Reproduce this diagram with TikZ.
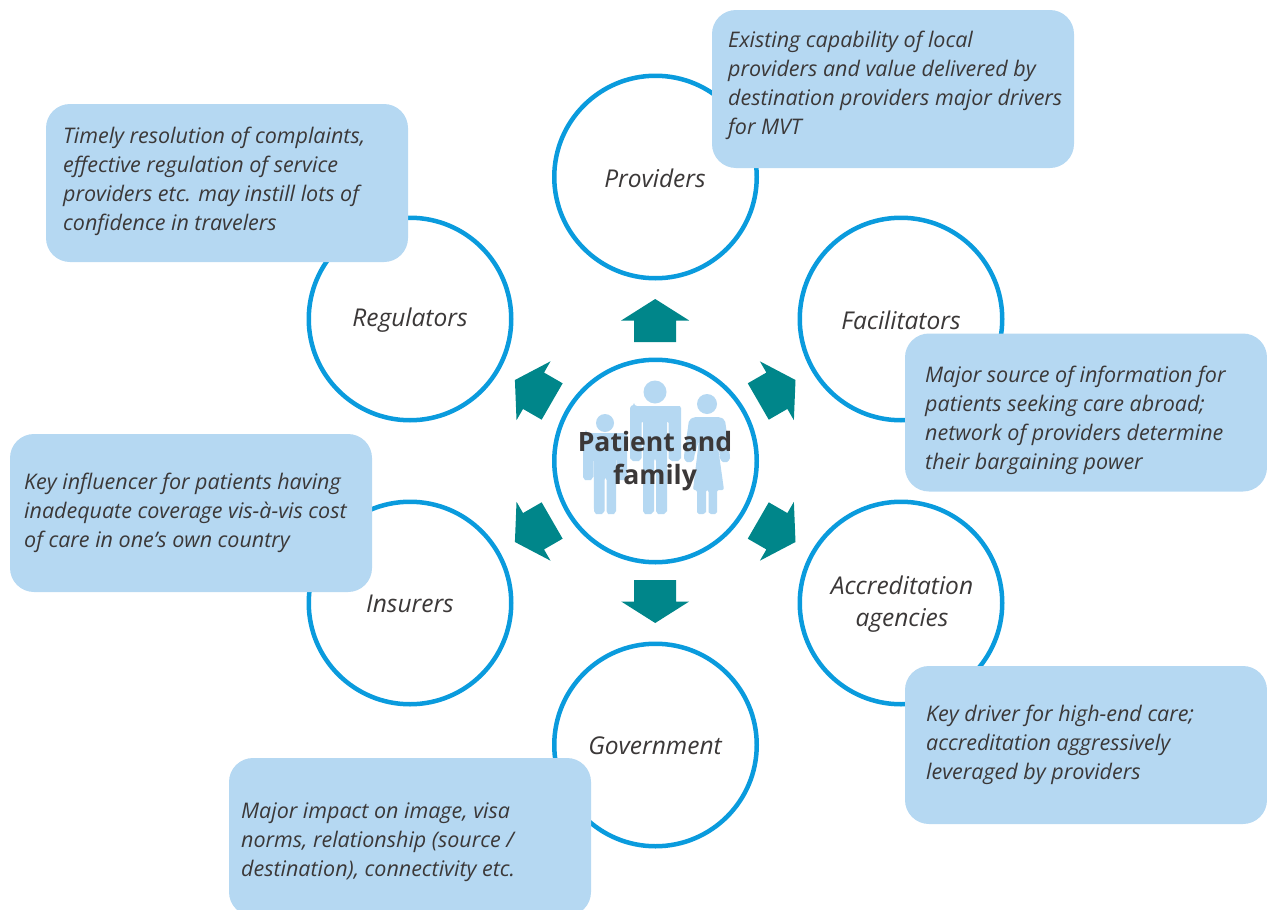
\documentclass[tikz,border=0pt]{standalone}
\usepackage{fontspec}
\setmainfont{Open Sans}
\definecolor{ringblue}{HTML}{0A9BDD}
\definecolor{boxblue}{HTML}{B5D8F2}
\definecolor{arrowteal}{HTML}{00868A}
\definecolor{inkgrey}{HTML}{3B3838}
\tikzset{
  ring/.style={circle,draw=ringblue,line width=4.5pt,fill=white,minimum size=202.5pt,inner sep=0pt},
  note/.style={draw=none,fill=boxblue,rounded corners=24pt,minimum width=362pt,minimum height=158pt,inner sep=0pt},
  notetext/.style={anchor=north west,inner sep=0pt,align=left,text=inkgrey,font=\fontsize{21.5}{29}\selectfont\itshape},
  ringtext/.style={align=center,text=inkgrey,font=\fontsize{24.5}{32}\selectfont\itshape},
  people/.style={fill=boxblue,draw=none},
  pointer/.style={fill=arrowteal,draw=none},
}
\begin{document}
\begin{tikzpicture}[x=1pt,y=-1pt]
\useasboundingbox (0,0) rectangle (1267,910);
\clip (0,0) rectangle (1267,910);
% rings
\node[ring] (prov) at (655.5,177) {};
\node[ring] (reg) at (410,319) {};
\node[ring] (fac) at (901,319) {};
\node[ring] (ins) at (410,603) {};
\node[ring] (acc) at (901,603) {};
\node[ring] (gov) at (655.5,745) {};
\node[ring] (pat) at (655.5,461) {};
% arrows
\foreach \a in {0,60,120,180,240,300}{
  \fill[pointer,shift={(655.2,461)},rotate=\a]
    (0,-162) -- (34,-140.5) -- (21,-140.5) -- (21,-119) -- (-21,-119) -- (-21,-140.5) -- (-34,-140.5) -- cycle;
}
% people
\fill[people] (655,392) circle (11.5);
\fill[people,rounded corners=3pt] (634,406) -- (677,406) to[out=0,in=90] (681,411)
  -- (681,455) to[out=-90,in=0] (675,461) to[out=180,in=-90] (668.5,455) -- (668.5,420) -- (667,420)
  -- (667,508) to[out=-90,in=0] (661,514) to[out=180,in=-90] (656,508) -- (656,458) -- (654,458)
  -- (654,508) to[out=-90,in=0] (648,514) to[out=180,in=-90] (643,508) -- (643,420) -- (641.5,420)
  -- (641.5,455) to[out=-90,in=0] (636,461) to[out=180,in=-90] (630,455) -- (630,411) to[out=90,in=180] cycle;
\fill[people] (605,423) circle (9);
\fill[people,rounded corners=3pt] (586,433) -- (624,433) to[out=0,in=90] (627,437)
  -- (627,474) to[out=-90,in=0] (622,480) to[out=180,in=-90] (617,474) -- (616.5,447)
  -- (616,508) to[out=-90,in=0] (611,514) to[out=180,in=-90] (606.5,508) -- (606.5,477) -- (604.5,477)
  -- (604.5,508) to[out=-90,in=0] (599,514) to[out=180,in=-90] (594,508) -- (593.5,447)
  -- (593,474) to[out=-90,in=0] (588,480) to[out=180,in=-90] (583,474) -- (583,437) to[out=90,in=180] cycle;
\fill[people] (707,404) circle (10);
\fill[people,rounded corners=2pt] (694,417) -- (720,417) -- (725,420) -- (730,456)
  to[out=-90,in=0] (725,462) to[out=180,in=-90] (720,456) -- (717,440) -- (724,490) -- (717,490)
  -- (717,510) to[out=-90,in=0] (713,514) to[out=180,in=-90] (708.5,510) -- (708.5,490) -- (706,490)
  -- (706,510) to[out=-90,in=0] (701,514) to[out=180,in=-90] (697,510) -- (697,490) -- (693,490)
  -- (699,440) -- (694,457) to[out=-90,in=0] (689,462) to[out=180,in=-90] (684,456) -- (689,420) -- cycle;
% ring texts
\node[ringtext] (provt) at (655,178) {Providers};
\node[ringtext] (regt) at (410,320) {Regulators};
\node[ringtext] (inst) at (410,604) {Insurers};
\node[ringtext] (acct) at (902,604) {Accreditation\\agencies};
\node[ringtext] (govt) at (655,746) {Government};
\node[align=center,text=inkgrey,font=\fontsize{26.6}{33}\selectfont\bfseries] (patt) at (655,461) {Patient and\\family};
% notes
\node[note] (n1) at (893,89) {};
\node[note] (n2) at (227,183) {};
\node[ringtext] (fact) at (901,320.5) {Facilitators};
\node[note] (n3) at (1086,412.5) {};
\node[note] (n4) at (191,513) {};
\node[note] (n5) at (1086,745) {};
\node[note] (n6) at (410,837) {};
\node[notetext] (t1) at (728,31) {Existing capability of local\\providers and value delivered by\\destination providers major drivers\\for MVT};
\node[notetext] (t2) at (63,127) {Timely resolution of complaints,\\effective regulation of service\\providers etc. may instill lots of\\confidence in travelers};
\node[notetext] (t3) at (925,366) {Major source of information for\\patients seeking care abroad;\\network of providers determine\\their bargaining power};
\node[notetext] (t4) at (24,473) {Key influencer for patients having\\inadequate coverage vis-à-vis cost\\of care in one’s own country};
\node[notetext] (t5) at (926,705) {Key driver for high-end care;\\accreditation aggressively\\leveraged by providers};
\node[notetext] (t6) at (241,803) {Major impact on image, visa\\norms, relationship (source /\\destination), connectivity etc.};
\end{tikzpicture}
\end{document}
